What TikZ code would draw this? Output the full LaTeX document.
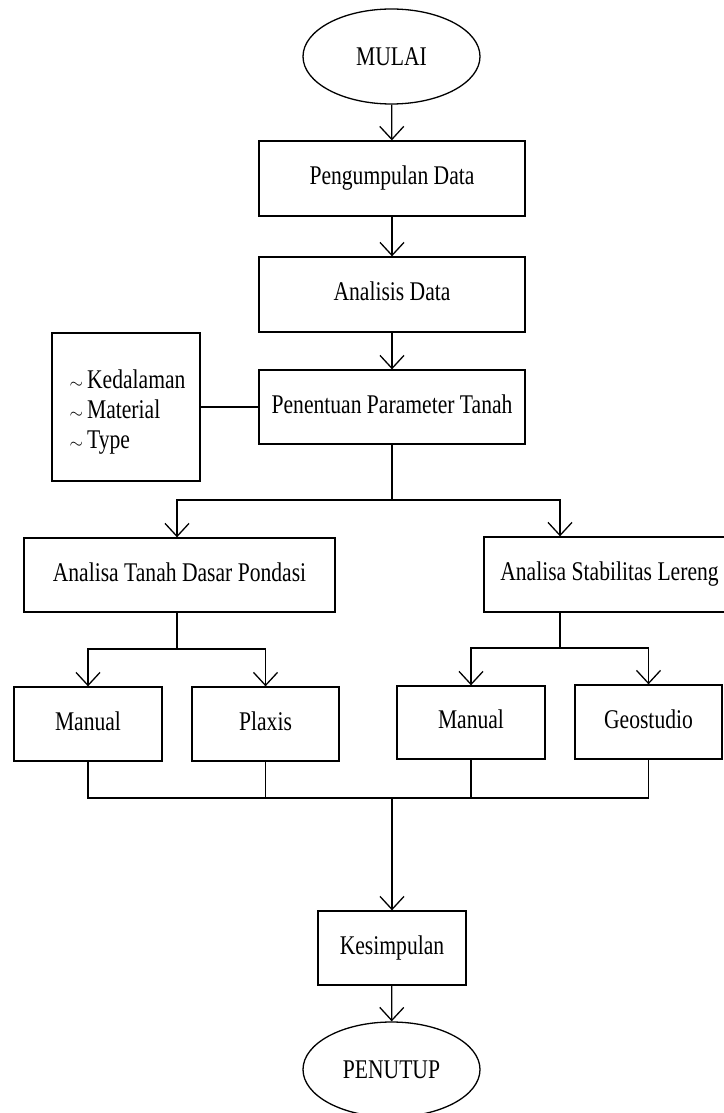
\documentclass[tikz,border=0pt]{standalone}
\usepackage{fontspec}
\setmainfont{Liberation Serif}[FakeStretch=0.8]
\usetikzlibrary{arrows.meta,shapes.geometric}
\newcommand\tildemark{{\fontsize{17}{17}\selectfont$\sim$}\hspace{4pt}}
\begin{document}
\begin{tikzpicture}[x=1pt,y=-1pt,
  line width=1.3pt,
  txt/.style={font=\fontsize{27}{30}\selectfont, text height=18.4pt, text depth=5.9pt},
  box/.style={draw, rectangle, inner sep=0pt, txt},
  oval/.style={draw, ellipse, inner sep=0pt, minimum width=177pt, minimum height=95pt, font=\fontsize{27}{30}\selectfont, text height=18.4pt, text depth=0pt},
  arr/.style={-{Straight Barb[length=13pt,width=24pt]}}]
\useasboundingbox (0,0) rectangle (723,1113);

\node[oval] (start) at (391.5,56.5) {MULAI};
\node[box, minimum width=266pt, minimum height=75pt] (pd) at (392,178.5) {Pengumpulan Data};
\node[box, minimum width=266pt, minimum height=75pt] (ad) at (392,294.5) {Analisis Data};
\node[box, minimum width=266pt, minimum height=74pt] (pp) at (392,407) {Penentuan Parameter Tanah};
\node[draw, rectangle, minimum width=148pt, minimum height=148pt] (par) at (126,407) {};
\node[anchor=north west, align=left, inner sep=0pt, font=\fontsize{27}{30}\selectfont] (parlist) at (69,369.6)
  {\tildemark Kedalaman\\ \tildemark Material\\ \tildemark Type};

\node[box, minimum width=311pt, minimum height=74pt] (atd) at (179.5,575) {Analisa Tanah Dasar Pondasi};
\node[box, minimum width=251pt, minimum height=75pt] (asl) at (609.5,574.5) {Analisa Stabilitas Lereng};

\node[box, minimum width=148pt, minimum height=74pt] (m1) at (88,724) {Manual};
\node[box, minimum width=147pt, minimum height=74pt] (px) at (265.5,724) {Plaxis};
\node[box, minimum width=148pt, minimum height=73pt] (m2) at (471,722.5) {Manual};
\node[box, minimum width=147pt, minimum height=74pt] (geo) at (648.5,722) {Geostudio};

\node[box, minimum width=148pt, minimum height=74pt] (kes) at (392,948) {Kesimpulan};
\node[oval] (end) at (391.5,1069.5) {PENUTUP};

\coordinate (b1) at (392,500);
\coordinate (bL) at (177,500);
\coordinate (bR) at (560,500);
\coordinate (cL) at (177,649);
\coordinate (cR) at (560,648);
\coordinate (mg) at (392,798);

\draw[arr] (start) -- (pd);
\draw[arr] (pd) -- (ad);
\draw[arr] (ad) -- (pp);
\draw (par.east) -- (pp.west);

\draw (pp.south) -- (b1);
\draw[arr] (b1) -- (bL) -- (bL |- atd.north);
\draw[arr] (b1) -- (bR) -- (bR |- asl.north);

\draw (bL |- atd.south) -- (cL);
\draw[arr] (cL) -| (m1.north);
\draw[arr] (cL) -| (px.north);
\draw (bR |- asl.south) -- (cR);
\draw[arr] (cR) -| (m2.north);
\draw[arr] (cR) -| (geo.north);

\draw (m1.south) |- (geo.south |- mg) -- (geo.south);
\draw (px.south) -- (px.south |- mg);
\draw (m2.south) -- (m2.south |- mg);
\draw[arr] (mg) -- (kes.north);
\draw[arr] (kes) -- (end);
\end{tikzpicture}
\end{document}
